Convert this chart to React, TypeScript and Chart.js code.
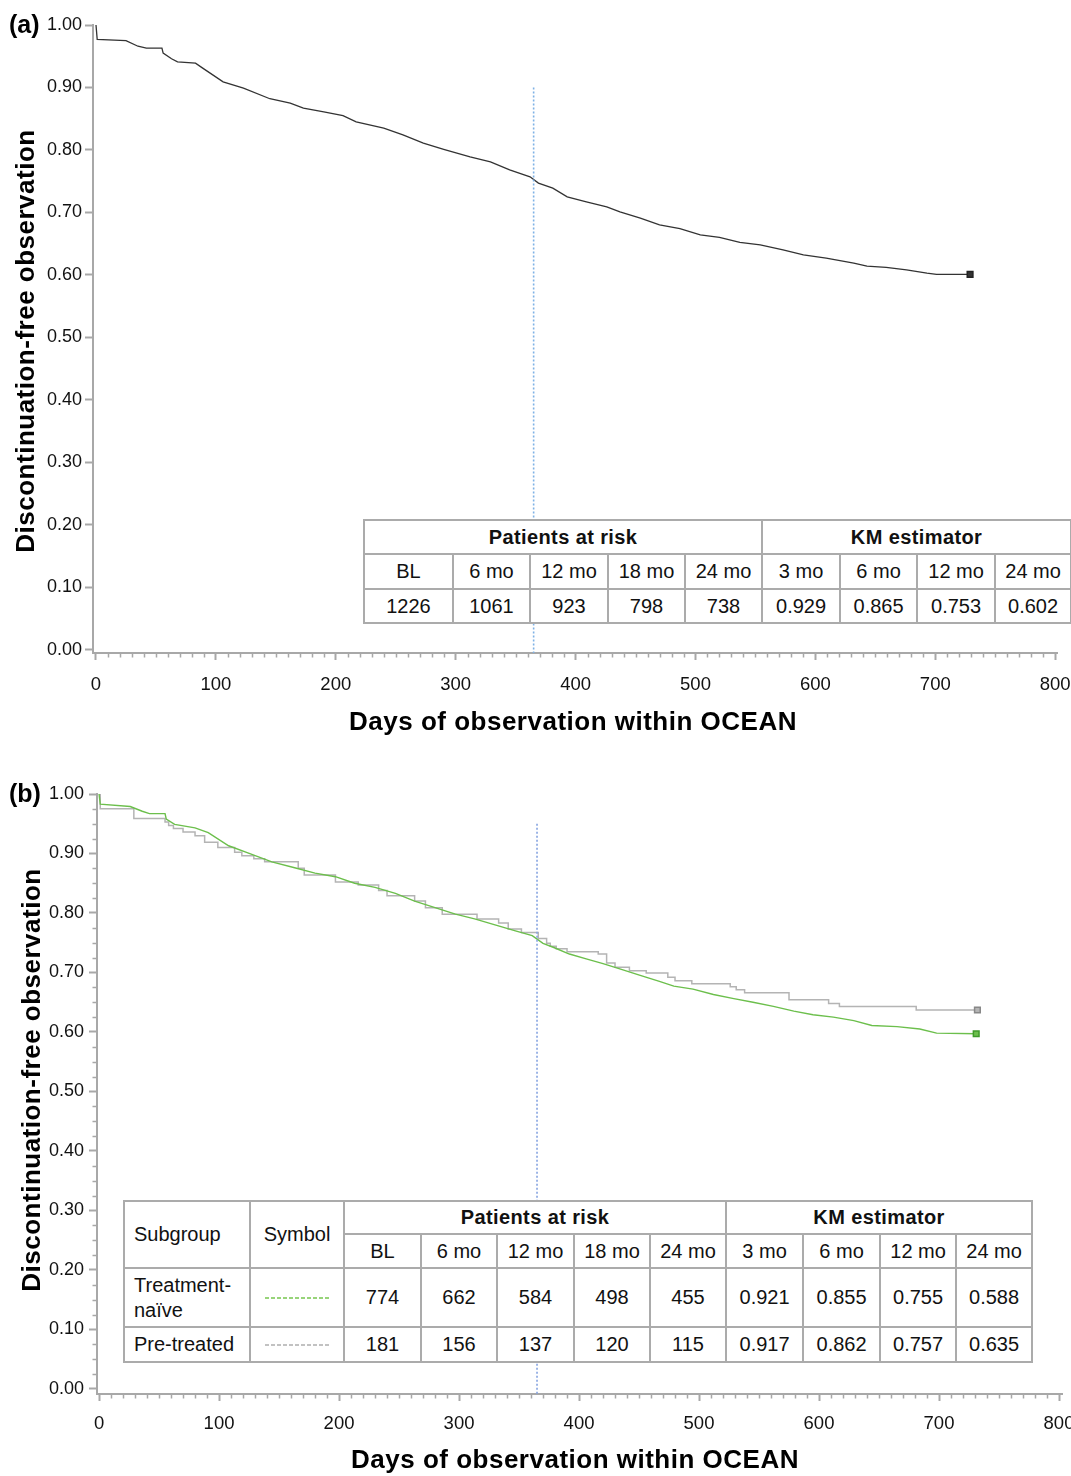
import React, { useEffect, useRef } from "react";
import { Chart, registerables } from "chart.js";
Chart.register(...registerables);

// ---------------- data ----------------
// Panel (a): all patients, Kaplan-Meier discontinuation-free observation
const allDays = [0, 1, 25, 35, 42, 55, 56, 63, 68, 83, 89, 106, 123, 145, 162, 173, 190, 206, 217, 240, 256, 273, 290, 312, 329, 345, 362, 369, 381, 393, 409, 426, 437, 454, 470, 487, 504, 520, 537, 554, 573, 590, 609, 632, 643, 659, 676, 693, 701, 729];
const allSurvival = [1.0, 0.977, 0.975, 0.966, 0.963, 0.963, 0.955, 0.946, 0.941, 0.939, 0.931, 0.909, 0.899, 0.882, 0.875, 0.867, 0.861, 0.855, 0.845, 0.835, 0.824, 0.811, 0.801, 0.789, 0.781, 0.768, 0.757, 0.747, 0.739, 0.725, 0.717, 0.709, 0.701, 0.691, 0.68, 0.674, 0.664, 0.66, 0.652, 0.648, 0.64, 0.632, 0.627, 0.619, 0.614, 0.612, 0.608, 0.603, 0.601, 0.601];

// Panel (b): treatment-naive
const naiveDays = [0, 1, 26, 36, 42, 55, 56, 63, 80, 91, 108, 124, 144, 163, 180, 197, 213, 230, 247, 263, 280, 297, 313, 330, 347, 361, 370, 379, 392, 406, 420, 434, 451, 467, 479, 495, 512, 529, 545, 562, 579, 595, 612, 629, 644, 665, 684, 698, 731];
const naiveSurvival = [1.0, 0.983, 0.979, 0.971, 0.967, 0.967, 0.958, 0.949, 0.943, 0.935, 0.913, 0.901, 0.886, 0.876, 0.867, 0.861, 0.85, 0.843, 0.833, 0.82, 0.809, 0.798, 0.79, 0.78, 0.77, 0.762, 0.749, 0.742, 0.731, 0.723, 0.715, 0.706, 0.695, 0.685, 0.677, 0.672, 0.663, 0.656, 0.65, 0.643, 0.635, 0.629, 0.625, 0.619, 0.611, 0.609, 0.605, 0.598, 0.597];

// Panel (b): pre-treated (step function: day of drop, value after drop)
const pretreatedDays = [0, 1, 29, 55, 58, 62, 70, 80, 88, 99, 113, 119, 129, 138, 166, 171, 197, 216, 233, 240, 263, 272, 286, 315, 333, 341, 352, 366, 373, 376, 381, 390, 416, 423, 430, 442, 456, 474, 480, 494, 526, 531, 538, 575, 608, 617, 681, 732];
const pretreatedSurvival = [1.0, 0.975, 0.959, 0.953, 0.947, 0.942, 0.936, 0.93, 0.919, 0.91, 0.902, 0.896, 0.891, 0.886, 0.875, 0.864, 0.852, 0.847, 0.838, 0.829, 0.82, 0.809, 0.798, 0.79, 0.783, 0.773, 0.767, 0.757, 0.749, 0.744, 0.74, 0.735, 0.731, 0.716, 0.709, 0.703, 0.699, 0.692, 0.686, 0.681, 0.676, 0.671, 0.666, 0.654, 0.648, 0.643, 0.637, 0.637];

const xTickValues = [0, 100, 200, 300, 400, 500, 600, 700, 800];
const yTickValues = [0, 0.1, 0.2, 0.3, 0.4, 0.5, 0.6, 0.7, 0.8, 0.9, 1.0];
const landmarkDay = 365;

const riskHeaders = ["BL", "6 mo", "12 mo", "18 mo", "24 mo"];
const kmHeaders = ["3 mo", "6 mo", "12 mo", "24 mo"];
const allRisk = ["1226", "1061", "923", "798", "738"];
const allKM = ["0.929", "0.865", "0.753", "0.602"];
const naiveRisk = ["774", "662", "584", "498", "455"];
const naiveKM = ["0.921", "0.855", "0.755", "0.588"];
const pretreatedRisk = ["181", "156", "137", "120", "115"];
const pretreatedKM = ["0.917", "0.862", "0.757", "0.635"];

const xTitle = "Days of observation within OCEAN";
const yTitle = "Discontinuation-free observation";

// ---------------- styles ----------------
const FONT = '"Liberation Sans", Arial, Helvetica, sans-serif';
const AXIS = "#a8a8a8";
const BLACK_LINE = "#333333";
const GREEN_LINE = "#6cbf4c";
const GREY_LINE = "#b4b4b4";
const CANVAS_W = 1100;

const toXY = (xs: number[], ys: number[]) => xs.map((x, i) => ({ x, y: ys[i] }));

const minorTicksPlugin = {
  id: "minorTicks",
  afterDraw(chart: any, _args: any, opts: any) {
    const { ctx } = chart;
    const xs = chart.scales.x;
    const ys = chart.scales.y;
    const bottom = chart.chartArea.bottom;
    const left = chart.chartArea.left;
    ctx.save();
    ctx.strokeStyle = AXIS;
    ctx.lineWidth = 1.5;
    ctx.beginPath();
    if (opts.xStep) {
      for (let v = 0; v <= 800 + 1e-9; v += opts.xStep) {
        if (Math.abs(v % 100) < 1e-6) continue;
        const px = Math.round(xs.getPixelForValue(v)) + 0.5;
        ctx.moveTo(px, bottom);
        ctx.lineTo(px, bottom + 4.5);
      }
    }
    if (opts.yStep) {
      for (let i = 0; i * opts.yStep <= 1 + 1e-9; i++) {
        const v = i * opts.yStep;
        if (Math.abs((v * 10) - Math.round(v * 10)) < 1e-6) continue;
        const py = Math.round(ys.getPixelForValue(v)) + 0.5;
        ctx.moveTo(left, py);
        ctx.lineTo(left - 4.5, py);
      }
    }
    ctx.stroke();
    ctx.restore();
  },
};

const titlesPlugin = {
  id: "axisTitles",
  afterDraw(chart: any, _args: any, opts: any) {
    const { ctx } = chart;
    ctx.save();
    ctx.fillStyle = "#000";
    ctx.font = `bold ${opts.size}px ${FONT}`;
    try { (ctx as any).letterSpacing = opts.spacing + "px"; } catch (e) {}
    ctx.textAlign = "center";
    ctx.textBaseline = "middle";
    ctx.fillText(opts.xText, opts.xTitleX, opts.xTitleY);
    ctx.translate(opts.yTitleX, opts.yTitleY);
    ctx.rotate(-Math.PI / 2);
    ctx.fillText(opts.yText, 0, 0);
    ctx.restore();
  },
};

type PanelSpec = {
  top: number;
  height: number;
  chartTop: number;
  xAxisHeight: number;
  yAxisWidth: number;
  padRight: number;
  xMin: number;
  xMax: number;
  yMin: number;
  xLabelPad: number;
  yLabelPad: number;
  yMinorStep: number;
  landmarkTop: number;
  landmarkColor: string;
  xTitleX: number;
  xTitleY: number;
  yTitleX: number;
  yTitleY: number;
  datasets: any[];
};

function buildConfig(p: PanelSpec): any {
  return {
    type: "line",
    data: {
      datasets: [
        {
          data: [
            { x: landmarkDay, y: p.landmarkTop },
            { x: landmarkDay, y: p.yMin },
          ],
          borderColor: p.landmarkColor,
          borderWidth: 1.6,
          borderDash: [2, 2],
          pointRadius: 0,
          fill: false,
        },
        ...p.datasets,
      ],
    },
    options: {
      animation: false,
      responsive: false,
      maintainAspectRatio: false,
      events: [],
      layout: { padding: { left: 0, right: p.padRight, top: p.chartTop, bottom: 0 } },
      plugins: {
        legend: { display: false },
        tooltip: { enabled: false },
        minorTicks: { xStep: 10, yStep: p.yMinorStep },
        axisTitles: {
          size: 26,
          spacing: 0.5,
          xText: xTitle,
          yText: yTitle,
          xTitleX: p.xTitleX,
          xTitleY: p.xTitleY,
          yTitleX: p.yTitleX,
          yTitleY: p.yTitleY,
        },
      },
      scales: {
        x: {
          type: "linear",
          min: p.xMin,
          max: p.xMax,
          afterFit: (s: any) => {
            s.height = p.xAxisHeight;
          },
          afterBuildTicks: (s: any) => {
            s.ticks = xTickValues.map((v) => ({ value: v }));
          },
          border: { display: true, color: AXIS, width: 2 },
          grid: {
            display: true,
            drawOnChartArea: false,
            drawTicks: true,
            tickLength: 7,
            tickWidth: 2,
            tickColor: AXIS,
            color: AXIS,
          },
          ticks: {
            autoSkip: false,
            maxRotation: 0,
            padding: p.xLabelPad,
            color: "#111",
            font: { family: FONT, size: 18.5 },
            callback: (v: any) => String(v),
          },
        },
        y: {
          type: "linear",
          min: p.yMin,
          max: 1.0,
          afterFit: (s: any) => {
            s.width = p.yAxisWidth;
          },
          afterBuildTicks: (s: any) => {
            s.ticks = yTickValues.map((v) => ({ value: v }));
          },
          border: { display: true, color: AXIS, width: 2 },
          grid: {
            display: true,
            drawOnChartArea: false,
            drawTicks: true,
            tickLength: 8,
            tickWidth: 2,
            tickColor: AXIS,
            color: AXIS,
          },
          ticks: {
            autoSkip: false,
            padding: p.yLabelPad,
            color: "#111",
            font: { family: FONT, size: 18 },
            callback: (v: any) => Number(v).toFixed(2),
          },
        },
      },
    },
    plugins: [minorTicksPlugin, titlesPlugin],
  };
}

function kmDataset(xs: number[], ys: number[], color: string, width: number, stepped: any, markerFill: string) {
  const n = xs.length;
  return {
    data: toXY(xs, ys),
    borderColor: color,
    borderWidth: width,
    stepped,
    tension: 0,
    fill: false,
    pointStyle: "rect",
    pointRadius: (ctx: any) => (ctx.dataIndex === n - 1 ? 4 : 0),
    pointBorderColor: markerFill,
    pointBackgroundColor: color,
    pointBorderWidth: 1.5,
  };
}

const panelA: PanelSpec = {
  top: 0,
  height: 760,
  chartTop: 25,
  xAxisHeight: 107,
  yAxisWidth: 93,
  padRight: 43,
  xMin: -2.5,
  xMax: 801.5,
  yMin: -0.005,
  xLabelPad: 14,
  yLabelPad: 3,
  yMinorStep: 0,
  landmarkTop: 0.9,
  landmarkColor: "#7fb2e5",
  xTitleX: 573,
  xTitleY: 723,
  yTitleX: 27,
  yTitleY: 341,
  datasets: [kmDataset(allDays, allSurvival, BLACK_LINE, 1.3, false, "#222")],
};

const panelB: PanelSpec = {
  top: 760,
  height: 716,
  chartTop: 34,
  xAxisHeight: 82,
  yAxisWidth: 97,
  padRight: 37.4,
  xMin: -1.7,
  xMax: 803,
  yMin: -0.0085,
  xLabelPad: 12,
  yLabelPad: 5,
  yMinorStep: 0.025,
  landmarkTop: 0.95,
  landmarkColor: "#85a3e0",
  xTitleX: 575,
  xTitleY: 701,
  yTitleX: 33,
  yTitleY: 320,
  datasets: [
    kmDataset(naiveDays, naiveSurvival, GREEN_LINE, 1.4, false, "#3f9a2a"),
    kmDataset(pretreatedDays, pretreatedSurvival, GREY_LINE, 1.5, "before", "#888"),
  ],
};

function KMChart({ spec }: { spec: PanelSpec }) {
  const ref = useRef<HTMLCanvasElement>(null);
  useEffect(() => {
    const chart = new Chart(ref.current as HTMLCanvasElement, buildConfig(spec));
    return () => chart.destroy();
  }, []);
  return (
    <canvas
      ref={ref}
      width={CANVAS_W}
      height={spec.height}
      style={{ position: "absolute", left: 0, top: spec.top, width: CANVAS_W, height: spec.height }}
    />
  );
}

const BORDER = "2px solid #ababab";
const tdBase: React.CSSProperties = {
  border: BORDER,
  padding: 0,
  textAlign: "center",
  verticalAlign: "middle",
  whiteSpace: "nowrap",
  overflow: "hidden",
};
const thBase: React.CSSProperties = { ...tdBase, fontWeight: "bold", letterSpacing: 0.4 };

function TableA() {
  const widths = [89, 77, 78, 77, 77, 78, 77, 78, 76];
  return (
    <table
      style={{
        position: "absolute",
        left: 363,
        top: 519,
        width: widths.reduce((a, b) => a + b, 0),
        borderCollapse: "collapse",
        tableLayout: "fixed",
        background: "#fff",
        fontFamily: FONT,
        fontSize: 20,
        color: "#111",
      }}
    >
      <colgroup>
        {widths.map((w, i) => (
          <col key={i} style={{ width: w }} />
        ))}
      </colgroup>
      <tbody>
        <tr style={{ height: 34 }}>
          <th colSpan={5} style={thBase}>Patients at risk</th>
          <th colSpan={4} style={thBase}>KM estimator</th>
        </tr>
        <tr style={{ height: 35 }}>
          {[...riskHeaders, ...kmHeaders].map((h, i) => (
            <td key={i} style={tdBase}>{h}</td>
          ))}
        </tr>
        <tr style={{ height: 34 }}>
          {[...allRisk, ...allKM].map((h, i) => (
            <td key={i} style={tdBase}>{h}</td>
          ))}
        </tr>
      </tbody>
    </table>
  );
}

function DashSymbol({ color }: { color: string }) {
  return (
    <svg width={64} height={4} style={{ display: "block", margin: "0 auto" }}>
      <line x1={0} y1={2} x2={64} y2={2} stroke={color} strokeWidth={2} strokeDasharray="4 2" />
    </svg>
  );
}

function TableB() {
  const widths = [126, 94, 77, 76, 77, 76, 76, 77, 77, 76, 76];
  const leftCell: React.CSSProperties = { ...tdBase, textAlign: "left", paddingLeft: 9 };
  return (
    <table
      style={{
        position: "absolute",
        left: 123,
        top: 1200,
        width: widths.reduce((a, b) => a + b, 0),
        borderCollapse: "collapse",
        tableLayout: "fixed",
        background: "#fff",
        fontFamily: FONT,
        fontSize: 20,
        color: "#111",
      }}
    >
      <colgroup>
        {widths.map((w, i) => (
          <col key={i} style={{ width: w }} />
        ))}
      </colgroup>
      <tbody>
        <tr style={{ height: 33 }}>
          <td rowSpan={2} style={leftCell}>Subgroup</td>
          <td rowSpan={2} style={tdBase}>Symbol</td>
          <th colSpan={5} style={thBase}>Patients at risk</th>
          <th colSpan={4} style={thBase}>KM estimator</th>
        </tr>
        <tr style={{ height: 34 }}>
          {[...riskHeaders, ...kmHeaders].map((h, i) => (
            <td key={i} style={tdBase}>{h}</td>
          ))}
        </tr>
        <tr style={{ height: 59 }}>
          <td style={{ ...leftCell, whiteSpace: "normal", lineHeight: "25px" }}>
            Treatment-
            <br />
            naïve
          </td>
          <td style={tdBase}>
            <DashSymbol color="#98d47a" />
          </td>
          {[...naiveRisk, ...naiveKM].map((h, i) => (
            <td key={i} style={tdBase}>{h}</td>
          ))}
        </tr>
        <tr style={{ height: 35 }}>
          <td style={leftCell}>Pre-treated</td>
          <td style={tdBase}>
            <DashSymbol color="#c2c2c2" />
          </td>
          {[...pretreatedRisk, ...pretreatedKM].map((h, i) => (
            <td key={i} style={tdBase}>{h}</td>
          ))}
        </tr>
      </tbody>
    </table>
  );
}

const panelLabel: React.CSSProperties = {
  position: "absolute",
  left: 9,
  fontFamily: FONT,
  fontWeight: "bold",
  fontSize: 25,
  lineHeight: "28px",
  color: "#000",
};

export default function App() {
  return (
    <div
      style={{
        position: "absolute",
        left: 0,
        top: 0,
        width: 1071,
        height: 1476,
        overflow: "hidden",
        background: "#fff",
      }}
    >
      <KMChart spec={panelA} />
      <KMChart spec={panelB} />
      <TableA />
      <TableB />
      <div style={{ ...panelLabel, top: 10 }}>(a)</div>
      <div style={{ ...panelLabel, top: 779 }}>(b)</div>
    </div>
  );
}
